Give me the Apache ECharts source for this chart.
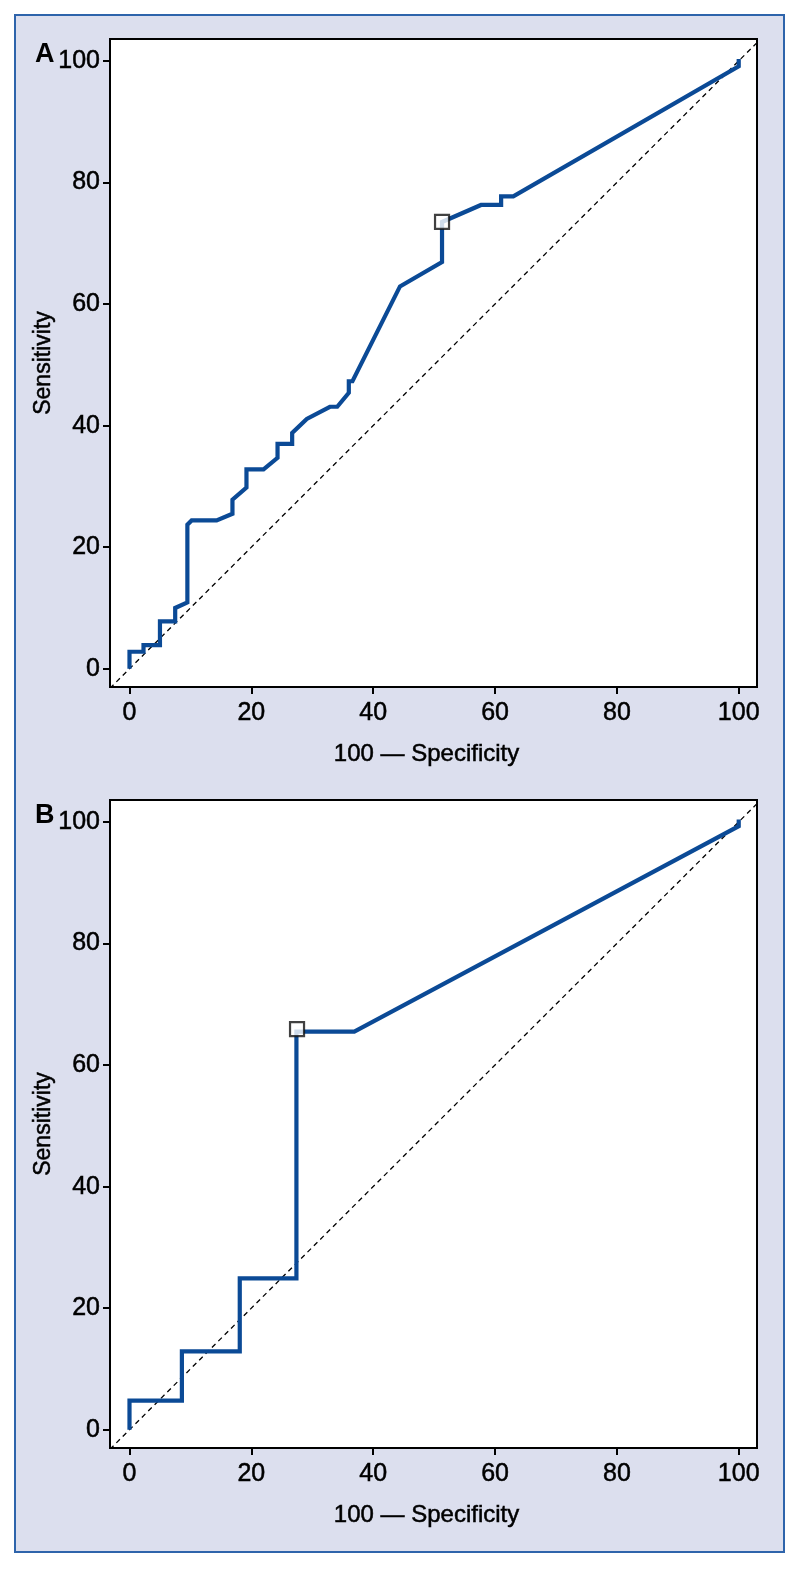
<!DOCTYPE html>
<html>
<head>
<meta charset="utf-8">
<script src="https://cdn.jsdelivr.net/npm/echarts@6/dist/echarts.min.js"></script>
<style>
html,body{margin:0;padding:0;background:#ffffff;}
#chart{width:800px;height:1569px;}
</style>
</head>
<body>
<div id="chart"></div>
<script>
// ---- data ----
const rocA = [[0,0],[0,2.8],[2.3,2.8],[2.3,3.9],[5.0,3.9],[5.0,7.8],[7.5,7.8],[7.5,10.0],[9.5,10.9],[9.5,23.7],[10.2,24.4],[14.3,24.4],[16.9,25.5],[16.9,27.8],[19.2,29.8],[19.2,32.8],[22.0,32.8],[24.3,34.7],[24.3,37.0],[26.7,37.0],[26.7,38.8],[29.1,41.1],[32.9,43.1],[34.1,43.1],[36.0,45.4],[36.0,47.3],[36.6,47.3],[44.4,62.9],[51.3,66.9],[51.3,73.5],[57.7,76.3],[61.0,76.3],[61.0,77.7],[63.0,77.7],[100,99.1],[100,100.3]];
const cutA = [[51.3,73.5]];
const rocB = [[0,0],[0,4.8],[8.6,4.8],[8.6,12.9],[18.1,12.9],[18.1,24.9],[27.4,24.9],[27.4,65.5],[36.9,65.5],[100,99.3],[100,100.4]];
const cutB = [[27.5,65.9]];
const tickValues = [0,20,40,60,80,100];
const panelLabels = ['A','B'];
const xTitle = '100 \u2014 Specificity';
const yTitle = 'Sensitivity';
const xMin = -3.2, xMax = 103, yMin = -3, yMax = 103.6;

const FONT = "'Liberation Sans','Arial',sans-serif";
const lineColor = '#0b4a96';
const heavy = {textBorderColor:'#000', textBorderWidth:0.5};

const chart = echarts.init(document.getElementById('chart'), null, {renderer:'canvas'});

const grids = [
  {left:110, top:39, width:647, height:648},
  {left:110, top:800, width:647, height:648}
];

function xAxisFor(i){
  return {
    type:'value', gridIndex:i, min:xMin, max:xMax,
    name:xTitle, nameLocation:'middle', nameGap:55,
    nameTextStyle:Object.assign({fontFamily:FONT, fontSize:24, color:'#000', padding:[0,14,0,0]}, heavy),
    axisLine:{show:true, onZero:false, lineStyle:{color:'#000', width:2}},
    axisTick:{show:true, length:7, lineStyle:{color:'#000', width:2}, customValues:tickValues},
    axisLabel:Object.assign({fontFamily:FONT, fontSize:25, color:'#000', margin:14, customValues:tickValues}, heavy),
    splitLine:{show:false}
  };
}
function yAxisFor(i){
  return {
    type:'value', gridIndex:i, min:yMin, max:yMax,
    name:yTitle, nameLocation:'middle', nameGap:55, nameRotate:90, nameMoveOverlap:false,
    nameTextStyle:Object.assign({fontFamily:FONT, fontSize:23, color:'#000'}, heavy),
    axisLine:{show:true, onZero:false, lineStyle:{color:'#000', width:2}},
    axisTick:{show:true, length:7, lineStyle:{color:'#000', width:2}, customValues:tickValues},
    axisLabel:Object.assign({fontFamily:FONT, fontSize:25, color:'#000', margin:10, customValues:tickValues}, heavy),
    splitLine:{show:false}
  };
}

function rocSeries(i, data){
  return {type:'line', xAxisIndex:i, yAxisIndex:i, data:data, showSymbol:false, symbol:'none',
    lineStyle:{color:lineColor, width:4.2, join:'miter'}, silent:true, animation:false, z:3};
}
function diagSeries(i){
  return {type:'line', xAxisIndex:i, yAxisIndex:i, data:[[xMin,xMin],[yMax,yMax]], showSymbol:false, symbol:'none',
    lineStyle:{color:'#000', width:1.3, type:[5,4]}, silent:true, animation:false, clip:true, z:2};
}
function cutSeries(i, data){
  return {type:'scatter', xAxisIndex:i, yAxisIndex:i, data:data, symbol:'rect', symbolSize:14,
    itemStyle:{color:'#fff', borderColor:'#111', borderWidth:2.2}, silent:true, animation:false, z:5};
}

const option = {
  backgroundColor:'#ffffff',
  animation:false,
  graphic:[
    {type:'rect', z:-100, shape:{x:15, y:15, width:769, height:1537},
     style:{fill:'#dcdfee', stroke:'#2e64ab', lineWidth:2}}
  ],
  title: panelLabels.map((t,i)=>({text:t, left:30, top: i===0 ? 36 : 797,
    textStyle:{fontFamily:FONT, fontSize:27, fontWeight:'bold', color:'#000'}})),
  grid: grids.map(g=>Object.assign({show:true, backgroundColor:'#fff', borderColor:'#000', borderWidth:2, containLabel:false}, g)),
  xAxis:[xAxisFor(0), xAxisFor(1)],
  yAxis:[yAxisFor(0), yAxisFor(1)],
  series:[
    diagSeries(0), rocSeries(0, rocA), cutSeries(0, cutA),
    diagSeries(1), rocSeries(1, rocB), cutSeries(1, cutB)
  ]
};
chart.setOption(option);
</script>
</body>
</html>
